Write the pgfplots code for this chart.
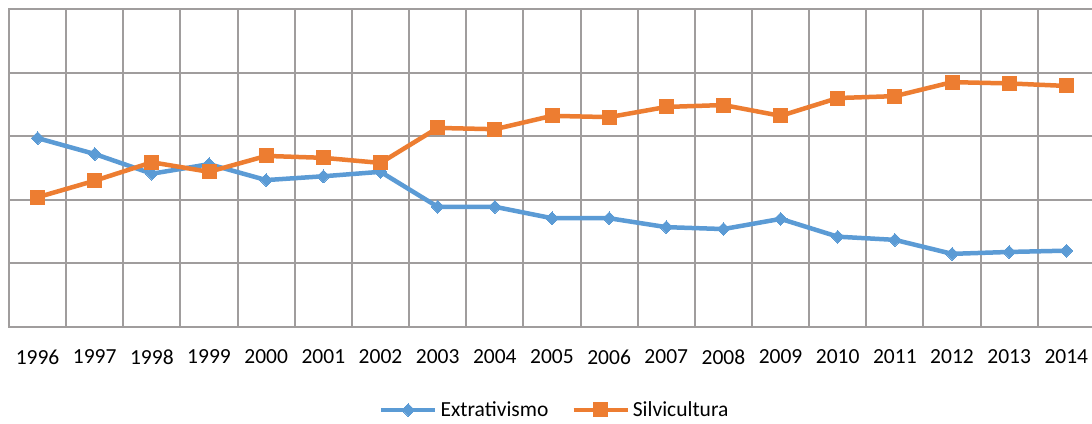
\documentclass[border=0pt]{standalone}
\usepackage{pgfplots}
\pgfplotsset{compat=1.18}
\usepackage{fontspec}
\setmainfont{Carlito}
\definecolor{cblue}{RGB}{91,155,213}
\definecolor{corange}{RGB}{237,125,49}
\definecolor{cgrid}{RGB}{160,157,157}
\begin{document}
\begin{tikzpicture}
\path[use as bounding box, clip] (0pt,0pt) rectangle (1092pt,423pt);
\fill[white] (0pt,0pt) rectangle (1092pt,423pt);
\begin{axis}[
  at={(9pt,96pt)}, anchor=south west,
  scale only axis, width=1086pt, height=318pt,
  xmin=1995.5, xmax=2014.5, ymin=0, ymax=5,
  xtick={1996,...,2014},
  minor xtick={1995.5,1996.5,...,2014.5},
  ytick={0,1,2,3,4,5}, yticklabels={},
  xminorgrids, ymajorgrids,
  major tick length=0pt, minor tick length=0pt,
  tick style={draw=none},
  axis line style={cgrid, line width=2pt},
  grid style={cgrid, line width=2pt},
  minor grid style={cgrid, line width=2pt},
  /pgf/number format/assume math mode=true,
  /pgf/number format/1000 sep={},
  xticklabel style={font=\fontsize{21.5}{25}\selectfont, anchor=north, yshift=-19pt},
  legend style={at={(0.503,-0.261)}, anchor=center, draw=none, fill=none,
    legend columns=2, font=\fontsize{21.5}{25}\selectfont,
    nodes={inner xsep=3pt},
    /tikz/every even column/.append style={column sep=20pt}},
  legend image code/.code={\draw[mark repeat=2,mark phase=2] plot coordinates {(0pt,0pt)(27pt,0pt)(54pt,0pt)};},
]
\addplot[cblue, line width=4.5pt, mark=square*, mark size=4.5pt, mark options={rotate=45, line width=0pt}] coordinates {
(1996,2.97)(1997,2.72)(1998,2.41)(1999,2.56)(2000,2.31)(2001,2.37)(2002,2.44)
(2003,1.89)(2004,1.89)(2005,1.71)(2006,1.71)(2007,1.57)(2008,1.54)(2009,1.70)
(2010,1.42)(2011,1.37)(2012,1.15)(2013,1.18)(2014,1.20)};
\addlegendentry{Extrativismo}
\addplot[corange, line width=4.5pt, mark=square*, mark size=7pt, mark options={line width=0pt}] coordinates {
(1996,2.04)(1997,2.30)(1998,2.59)(1999,2.44)(2000,2.69)(2001,2.66)(2002,2.58)
(2003,3.13)(2004,3.11)(2005,3.32)(2006,3.30)(2007,3.46)(2008,3.49)(2009,3.32)
(2010,3.60)(2011,3.63)(2012,3.85)(2013,3.83)(2014,3.79)};
\addlegendentry{Silvicultura}
\end{axis}
\end{tikzpicture}
\end{document}
